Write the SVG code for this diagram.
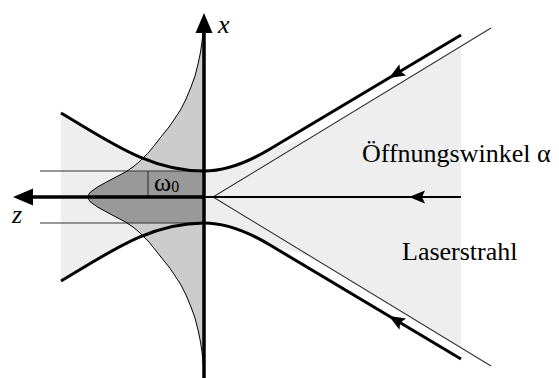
<svg xmlns="http://www.w3.org/2000/svg" width="559" height="378" viewBox="0 0 559 378">
<style>
.thin{fill:none;stroke:#333;stroke-width:1.1}
.bold{fill:none;stroke:#000;stroke-width:3;stroke-linejoin:round}
.axis{fill:none;stroke:#000}
.ah{fill:#000}
.lbl{font-family:"Liberation Serif","Times New Roman",serif;font-size:26px;fill:#000}
.it{font-style:italic}
</style>
<defs>
<polygon id="prof" points="204,25 203,32 202,42 200.5,52 198.5,62 195,76 191,87 186,99 181,109 174.5,119 169,127 162.5,135 157,142 153,147 149,152 144,157 139,162 133,167 125.5,172 116,177 106.5,182 97.5,187 90.5,192 88.6,194.5 88,197 88.6,199.5 90.5,202 97.5,207 106.5,212 116,217 125.5,222 133,227 139,232 144,237 149,242 153,247 157,252 162.5,259 169,267 174.5,275 181,285 186,295 191,307 195,318 198.5,332 200.5,342 202,352 203,362 204,369"/>
<clipPath id="band"><rect x="0" y="171" width="204" height="52"/></clipPath>
<path id="ahBig" d="M0,0 L-20,-8.5 L-20,8.5 Z"/>
<path id="ahSmall" d="M0,0 L-16,-6.5 L-13,0 L-16,6.5 Z"/>
</defs>

<g id="beam-region">
<path fill="#eeeeee" d="M61,113 C110,142 150,171 204,171 C225,171 245,164 270,149 L310,138 L461,46.2 L461,347.8 L310,256 L270,245 C245,230 225,223 204,223 C150,223 110,252 61,281 Z"/>
</g>

<g id="profile">
<use href="#prof" fill="#cccccc"/>
<use href="#prof" fill="#999999" clip-path="url(#band)"/>
</g>

<g id="guides">
<line class="thin" x1="40" y1="171" x2="204" y2="171"/>
<line class="thin" x1="40" y1="223" x2="204" y2="223"/>
<line class="thin" x1="148" y1="171" x2="148" y2="197"/>
<polyline class="thin" points="491,28 213,197 491,366"/>
</g>

<g id="profile-outline">
<use href="#prof" fill="none" stroke="#000" stroke-width="1" stroke-linejoin="round"/>
</g>

<g id="connectors">
<path class="bold" d="M61,113 C110,142 150,171 204,171 C225,171 245,164 270,149 L461,35"/>
<path class="bold" d="M61,281 C110,252 150,223 204,223 C225,223 245,230 270,245 L461,359"/>
<line class="axis" stroke-width="3.5" x1="30" y1="197" x2="204" y2="197"/>
<line class="axis" stroke-width="2.2" x1="204" y1="197" x2="461" y2="197"/>
<line class="axis" stroke-width="3.5" x1="204" y1="30" x2="204" y2="378"/>
<use href="#ahBig" class="ah" transform="translate(204,13) rotate(-90)"/>
<use href="#ahBig" class="ah" transform="translate(13,197) rotate(180)"/>
<use href="#ahSmall" class="ah" transform="translate(409,197) rotate(180)"/>
<use href="#ahSmall" class="ah" transform="translate(389,78) rotate(149.2)"/>
<use href="#ahSmall" class="ah" transform="translate(389,316) rotate(-149.2)"/>
</g>

<g id="labels">
<text class="lbl it" x="218" y="33">x</text>
<text class="lbl it" x="12" y="223">z</text>
<text class="lbl" x="154" y="191" font-size="24">ω<tspan font-size="16" dy="1">0</tspan></text>
<text class="lbl" x="362" y="162">Öffnungswinkel α</text>
<text class="lbl" x="402" y="260">Laserstrahl</text>
</g>
</svg>
